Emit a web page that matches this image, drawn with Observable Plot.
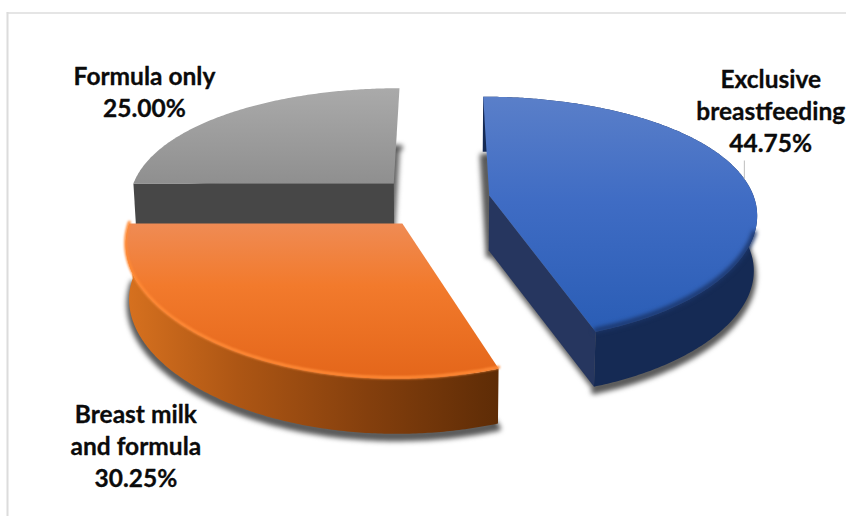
<!DOCTYPE html>
<html>
<head>
<meta charset="utf-8">
<script src="https://cdn.jsdelivr.net/npm/d3@7"></script>
<script src="https://cdn.jsdelivr.net/npm/@observablehq/plot@0.6"></script>
<style>
  html, body { margin: 0; padding: 0; background: #fff; overflow: hidden; }
  svg { display: block; }
</style>
</head>
<body>
<div id="chart"></div>
<script>
// Feeding categories and their shares, in percent
const categories = ["Exclusive breastfeeding", "Breast milk and formula", "Formula only"];
const shares = [44.75, 30.25, 25.00];
const labelLines = [["Exclusive", "breastfeeding"], ["Breast milk", "and formula"], ["Formula only"]];

// How far each slice is pulled out of the pie, in pie radii (sideways, towards the viewer)
const explode = [[0.19, -0.043], [-0.144, 0.189], [-0.185, -0.149]];

// Slice styling
const topFill = ["url(#topBlue)", "url(#topOrange)", "url(#topGrey)"];
const wallFill = ["#152a54", "url(#wallOrange)", null];
const cutEdge = ["end", null, "start"];
const cutFill = ["#26365f", null, "#474747"];
const rimGlow = [{stroke: "#1b3569", width: 5, blur: 2.2, from: 0.6}, {stroke: "#ff8a36", width: 3, blur: 1.2, from: 0.5}, null];
const labelNudge = [[28, -67], [-82, 100], [-86, -22]];

// Camera: pixel size of one radius, pie centre, tilt, perspective strength, wall height
const R = 258, cx = 440, cy = 200, tilt = 0.455, perspX = 0.14, perspY = 0.19, wall = 0.213;
const radiusX = 1.03, radiusV = [1.02, 0.99, 1.02];
const W = 846, H = 516, left = 7, top_ = 12.5;

const project = (X, V, z = 0) => ({
  x: (X / (1 - perspX * V)) * (1 - 0.05 * z),
  y: (tilt * V) / (1 - perspY * V) + z
});

const arcs = d3.pie().sort(null).value((d) => d)(shares);
const rimPoint = (i, a, z = 0) =>
  project(explode[i][0] + radiusX * Math.sin(a), explode[i][1] - radiusV[i] * Math.cos(a), z);
const apex = (i, z = 0) => project(explode[i][0], explode[i][1], z);
const rim = (i, z = 0, from = arcs[i].startAngle, to = arcs[i].endAngle) => {
  const n = Math.ceil(Math.abs(to - from) / 0.01);
  return d3.range(n + 1).map((k) => rimPoint(i, from + ((to - from) * k) / n, z));
};

const blurred = (px) => (index, scales, values, dims, context, next) => {
  const g = next(index, scales, values, dims, context);
  g.style.filter = `blur(${px}px)`;
  return g;
};

const shape = (points, options) =>
  Plot.line(points, {x: "x", y: "y", stroke: "none", ...options});

// Gradients used by the slice faces
const gradient = (id, stops, horizontal) =>
  `<linearGradient id="${id}" x1="0" y1="0" x2="${horizontal ? 1 : 0}" y2="${horizontal ? 0 : 1}">` +
  stops.map(([o, c]) => `<stop offset="${o}" stop-color="${c}"/>`).join("") +
  `</linearGradient>`;
const defs = () => {
  const node = document.createElementNS("http://www.w3.org/2000/svg", "defs");
  node.innerHTML =
    gradient("topBlue", [[0, "#5a7fc9"], [0.45, "#3f6cc4"], [1, "#2a5db5"]]) +
    gradient("topOrange", [[0, "#ef8b54"], [0.4, "#f27a2c"], [1, "#e4661a"]]) +
    gradient("topGrey", [[0, "#aaaaaa"], [1, "#8f8f8f"]]) +
    gradient("wallOrange", [[0, "#d7711f"], [0.3, "#ad5614"], [0.65, "#843f0d"], [1, "#5e2c06"]], true);
  return node;
};

const sliceMarks = (i) => {
  const marks = [];
  const start = arcs[i].startAngle, end = arcs[i].endAngle;
  // Soft shadow cast by the base of the slice
  marks.push(shape([apex(i, wall + 0.018), ...rim(i, wall + 0.018)], {
    fill: "#4a4a4a", stroke: "#4a4a4a", strokeWidth: 6, fillOpacity: 0.85, strokeOpacity: 0.85,
    render: blurred(2.5)
  }));
  // Outer wall
  if (wallFill[i]) marks.push(shape([...rim(i), ...rim(i, wall).reverse()], {fill: wallFill[i]}));
  // Visible cut face
  if (cutEdge[i]) {
    const a = cutEdge[i] === "end" ? end : start;
    marks.push(shape([apex(i), rimPoint(i, a), rimPoint(i, a, wall), apex(i, wall)], {fill: cutFill[i]}));
  }
  // Top surface
  marks.push(shape([apex(i), ...rim(i)], {fill: topFill[i]}));
  // Bevel along the front of the rim
  if (rimGlow[i]) {
    const from = Math.max(start, Math.PI * rimGlow[i].from);
    marks.push(shape(rim(i, -0.005, from, end), {
      fill: "none", stroke: rimGlow[i].stroke, strokeWidth: rimGlow[i].width, render: blurred(rimGlow[i].blur)
    }));
  }
  return marks;
};

const labelMarks = (i) => {
  const mid = (arcs[i].startAngle + arcs[i].endAngle) / 2;
  const text = [...labelLines[i], shares[i].toFixed(2) + "%"].join("\n");
  return Plot.text([{...rimPoint(i, mid), text}], {
    x: "x", y: "y", text: "text",
    dx: labelNudge[i][0], dy: labelNudge[i][1],
    fontFamily: "Lato", fontWeight: 700, fontSize: 24.5, lineHeight: 1.31, fill: "#0b0b0b",
    stroke: "#0b0b0b", strokeWidth: 0.3,
    textAnchor: "middle"
  });
};

// Leader from the blue slice's rim up towards its label
const leaderFoot = rimPoint(0, arcs[0].startAngle + (arcs[0].endAngle - arcs[0].startAngle) * 0.507);
const leader = [leaderFoot, {x: leaderFoot.x, y: leaderFoot.y - 18 / R}];

const chart = Plot.plot({
  width: W,
  height: H,
  marginTop: top_,
  marginLeft: left,
  marginRight: 0,
  marginBottom: 0,
  style: {background: "#fff", overflow: "visible"},
  x: {axis: null, domain: [(left - cx) / R, (W - cx) / R], range: [left, W]},
  y: {axis: null, domain: [(top_ - cy) / R, (H - cy) / R], range: [top_, H]},
  marks: [
    defs,
    Plot.frame({anchor: "top", stroke: "#dcdcdc", strokeWidth: 1.5}),
    Plot.frame({anchor: "left", stroke: "#dcdcdc", strokeWidth: 2}),
    ...sliceMarks(2),
    ...sliceMarks(0),
    ...sliceMarks(1),
    Plot.line(leader, {x: "x", y: "y", stroke: "#bdbdbd", strokeWidth: 1}),
    ...[0, 1, 2].map(labelMarks)
  ]
});
chart.setAttribute("aria-label", categories.join(", "));
document.getElementById("chart").appendChild(chart);
</script>
</body>
</html>
